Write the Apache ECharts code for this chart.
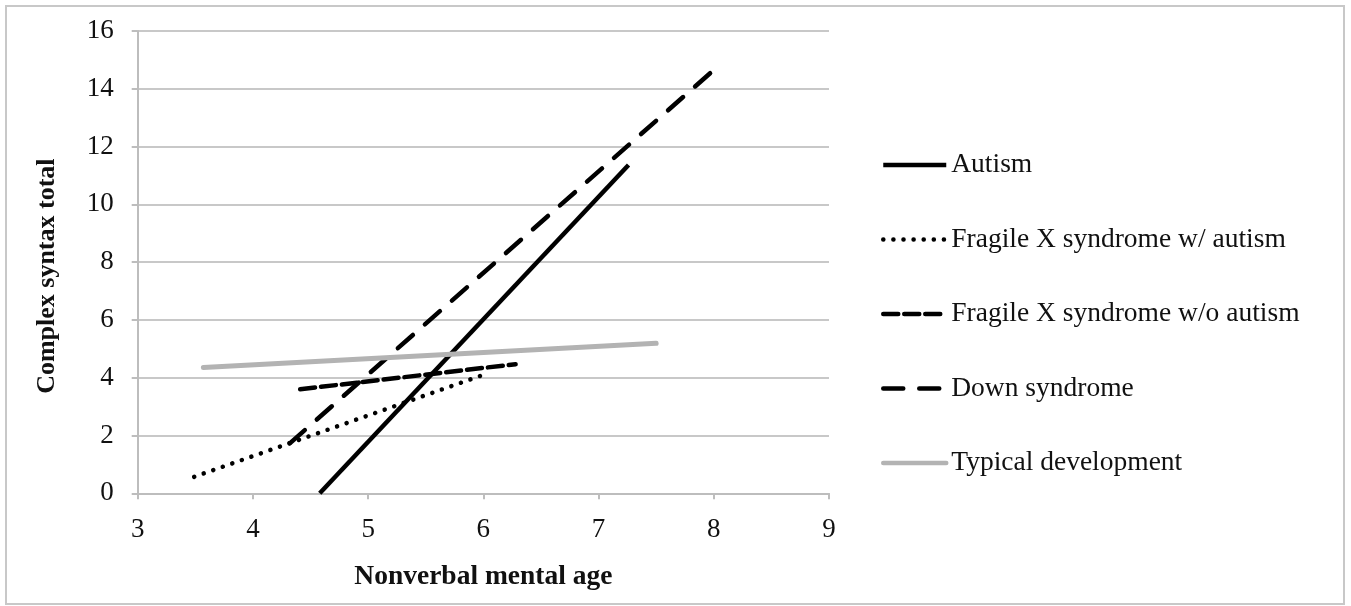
<!DOCTYPE html>
<html>
<head>
<meta charset="utf-8">
<script src="https://cdn.jsdelivr.net/npm/echarts@6/dist/echarts.min.js"></script>
<style>
html,body{margin:0;padding:0;background:#fff;}
#chart{width:1351px;height:606px;}
</style>
</head>
<body>
<div id="chart"></div>
<script>
// Data
var seriesNames = ['Autism', 'Fragile X syndrome w/ autism', 'Fragile X syndrome w/o autism', 'Down syndrome', 'Typical development'];
var autism = [[4.58, 0], [7.26, 11.36]];
var fxsWithAutism = [[3.49, 0.57], [6.0, 4.1]];
var fxsWithoutAutism = [[4.41, 3.6], [6.28, 4.47]];
var downSyndrome = [[4.32, 1.73], [8.0, 14.65]];
var typicalDev = [[3.57, 4.35], [7.5, 5.19]];
var xTicks = [3, 4, 5, 6, 7, 8, 9];
var yTicks = [0, 2, 4, 6, 8, 10, 12, 14, 16];

var FONT = '"Liberation Serif", "Times New Roman", serif';
var chart = echarts.init(document.getElementById('chart'));

function mkSeries(name, data, color, style) {
  return {
    name: name,
    type: 'line',
    data: data,
    symbol: 'none',
    color: color,
    animation: false,
    lineStyle: style
  };
}

chart.setOption({
  backgroundColor: '#ffffff',
  animation: false,
  textStyle: { fontFamily: FONT },
  graphic: [{
    type: 'rect',
    shape: { x: 6, y: 6, width: 1338, height: 598 },
    style: { fill: 'none', stroke: '#c8c8c8', lineWidth: 2 },
    silent: true
  }],
  grid: { left: 137.7, right: 1351 - 829, top: 31, bottom: 606 - 493.3, containLabel: false },
  xAxis: {
    type: 'value',
    min: xTicks[0], max: xTicks[xTicks.length - 1], interval: 1,
    name: 'Nonverbal mental age',
    nameLocation: 'middle',
    nameGap: 70,
    nameTextStyle: { fontFamily: FONT, fontWeight: 'bold', fontSize: 27.5, color: '#111' },
    axisLine: { show: true, lineStyle: { color: '#bdbdbd', width: 2 } },
    axisTick: { show: true, length: 6, lineStyle: { color: '#bdbdbd', width: 2 } },
    axisLabel: { fontFamily: FONT, fontSize: 27, color: '#111', margin: 23 },
    splitLine: { show: false }
  },
  yAxis: {
    type: 'value',
    min: yTicks[0], max: yTicks[yTicks.length - 1], interval: 2,
    name: 'Complex syntax total',
    nameLocation: 'middle',
    nameGap: 77,
    nameRotate: 90,
    nameTextStyle: { fontFamily: FONT, fontWeight: 'bold', fontSize: 26, color: '#111', padding: [0, 28, 0, 0] },
    axisLine: { show: true, lineStyle: { color: '#bdbdbd', width: 2 } },
    axisTick: { show: true, length: 6, lineStyle: { color: '#bdbdbd', width: 2 } },
    axisLabel: { fontFamily: FONT, fontSize: 27, color: '#111', margin: 24 },
    splitLine: { show: true, lineStyle: { color: '#c8c8c8', width: 2 } }
  },
  legend: {
    orient: 'vertical',
    left: 881,
    top: 150,
    padding: 0,
    itemWidth: 63,
    itemHeight: 20,
    itemGap: 44.5,
    itemStyle: { color: 'rgba(0,0,0,0)', borderColor: 'rgba(0,0,0,0)', borderWidth: 0, opacity: 0 },
    lineStyle: { width: 4.5 },
    textStyle: { fontFamily: FONT, fontSize: 27.5, color: '#111', lineHeight: 30 },
    data: seriesNames
  },
  series: [
    mkSeries(seriesNames[0], autism, '#000', { color: '#000', width: 4.5, type: 'solid' }),
    mkSeries(seriesNames[1], fxsWithAutism, '#000', { color: '#000', width: 4.5, type: [0.1, 10], cap: 'round' }),
    mkSeries(seriesNames[2], fxsWithoutAutism, '#000', { color: '#000', width: 4.5, type: [15, 6], cap: 'round' }),
    mkSeries(seriesNames[3], downSyndrome, '#000', { color: '#000', width: 4.5, type: [20, 16], cap: 'round' }),
    mkSeries(seriesNames[4], typicalDev, '#b3b3b3', { color: '#b3b3b3', width: 5, type: 'solid', cap: 'round' })
  ]
});
</script>
</body>
</html>
